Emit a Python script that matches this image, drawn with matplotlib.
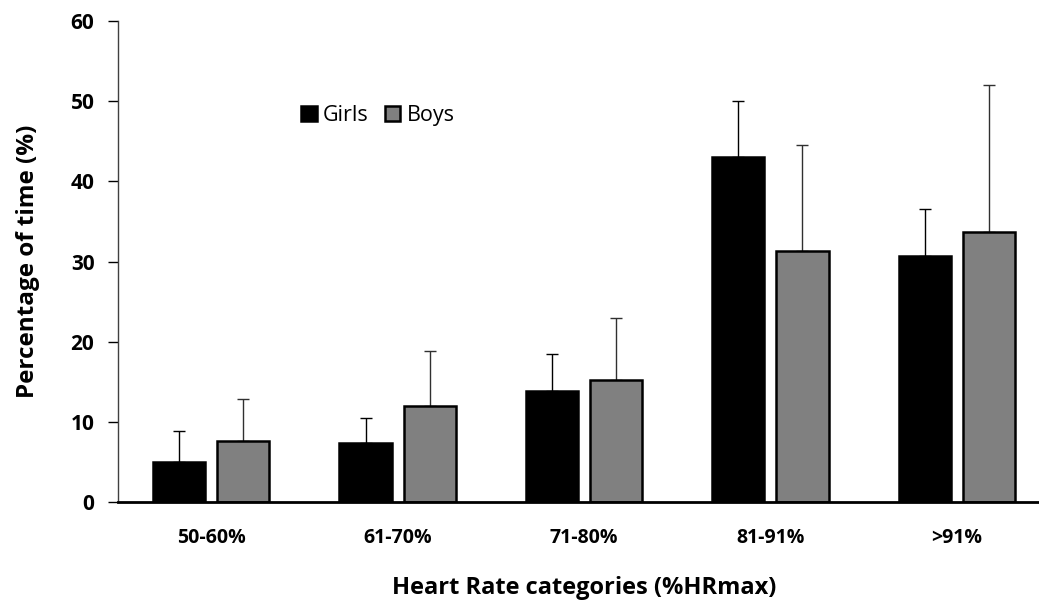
import numpy as np
import matplotlib
matplotlib.use("Agg")
import matplotlib.pyplot as plt

plt.rcParams['font.family'] = ['Open Sans', 'DejaVu Sans']

categories = ['50-60%', '61-70%', '71-80%', '81-91%', '>91%']
girls_mean = [5.0, 7.4, 13.8, 43.1, 30.7]
girls_sd = [3.9, 3.1, 4.7, 6.9, 5.8]
boys_mean = [7.6, 12.0, 15.2, 31.3, 33.7]
boys_sd = [5.2, 6.8, 7.7, 13.2, 18.3]
yticks = [0, 10, 20, 30, 40, 50, 60]

fig = plt.figure(figsize=(10.39, 6.03), dpi=100)
ax = fig.add_axes([0.1136, 0.1675, 0.897, 0.7975])

x = np.arange(len(categories))
w = 0.28
off = 0.172

ax.bar(x - off, girls_mean, w, color='black', edgecolor='black', linewidth=1.8, label='Girls', zorder=2)
ax.bar(x + off, boys_mean, w, color='#808080', edgecolor='black', linewidth=1.8, label='Boys', zorder=2)

ax.errorbar(x - off, girls_mean, yerr=[np.zeros(5), girls_sd], fmt='none',
            ecolor='black', elinewidth=1, capsize=4.5, capthick=1, zorder=1)
ax.errorbar(x + off, boys_mean, yerr=[np.zeros(5), boys_sd], fmt='none',
            ecolor='#303030', elinewidth=1, capsize=4.5, capthick=1, zorder=1)

ax.set_xlim(-0.5, 4.5)
ax.set_ylim(0, 60)
ax.set_yticks(yticks)
ax.set_xticks(x)
ax.set_xticklabels(categories, fontsize=14, fontweight='bold')
ax.set_yticklabels([str(t) for t in yticks], fontsize=15, fontweight='bold')
ax.tick_params(axis='x', length=0, pad=19)
ax.tick_params(axis='y', length=7, width=1, direction='out', pad=10)

for s in ['top', 'right']:
    ax.spines[s].set_visible(False)
ax.spines['left'].set_linewidth(1)
ax.spines['left'].set_color('#404040')
ax.spines['bottom'].set_linewidth(2)

ax.set_ylabel('Percentage of time (%)', fontsize=17.5, fontweight='bold', labelpad=22)
ax.set_xlabel('Heart Rate categories (%HRmax)', fontsize=17, fontweight='bold', labelpad=20)

ax.legend(loc='center left', bbox_to_anchor=(0.176, 0.803), ncol=2, frameon=False,
          fontsize=15.5, handlelength=0.7, handleheight=0.7, handletextpad=0.3,
          columnspacing=0.75)

fig.savefig('out.png', dpi=100)
